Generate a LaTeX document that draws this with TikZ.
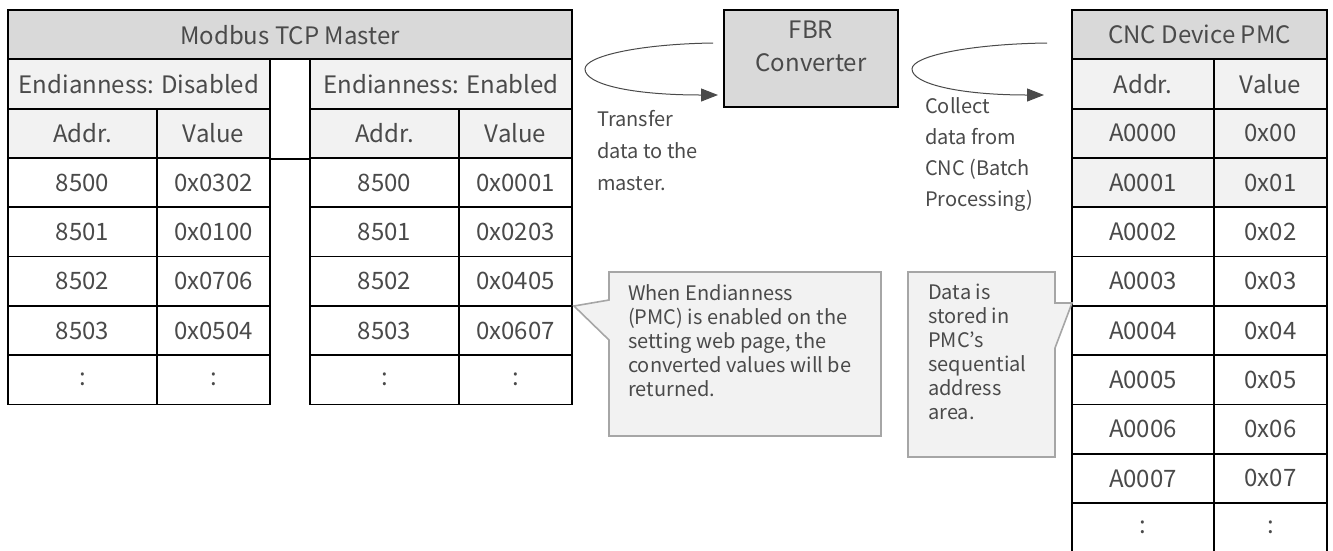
\documentclass[tikz,border=0pt]{standalone}
\usepackage{fontspec}
\setmainfont{Noto Sans CJK JP}
\usepackage{xcolor}
\usetikzlibrary{positioning,arrows.meta}
\definecolor{headgray}{HTML}{D9D9D9}
\definecolor{rowgray}{HTML}{F2F2F2}
\definecolor{txtgray}{HTML}{4A4A4A}
\definecolor{notegray}{HTML}{A6A6A6}

\begin{document}
\begin{tikzpicture}[x=1pt, y=-1pt,
cell/.style={draw, line width=1.8pt, inner sep=0pt, minimum height=49.3pt, text=txtgray, font=\fontsize{24}{28}\selectfont},
headcell/.style={fill=headgray},
lightcell/.style={fill=rowgray},
addrcol/.style={minimum width=149pt},
valcol/.style={minimum width=113pt},
cncaddr/.style={minimum width=142pt},
notetext/.style={inner sep=0pt, text=txtgray, align=left, font=\fontsize{20}{24}\selectfont},
callout/.style={fill=rowgray, draw=notegray, line width=1.6pt},
loop/.style={draw=txtgray, line width=1pt, -{Triangle[length=17pt,width=13pt]}}]

\useasboundingbox (0,0) rectangle (1333,550);

% Modbus master table
\node[cell, headcell, minimum width=564pt] (mhead) at (290,34.65) {Modbus TCP Master};
\node[cell, lightcell, minimum width=262pt] (endis) at (139,83.95) {Endianness: Disabled};
\node[cell, lightcell, minimum width=262pt] (enen)  at (441,83.95) {Endianness: Enabled};
\node[cell, lightcell, addrcol] (disaddr) at (82.5,133.25)  {Addr.};
\node[cell, lightcell, valcol]  (disval)  at (213.5,133.25) {Value};
\node[cell, lightcell, addrcol] (enaddr)  at (384.5,133.25) {Addr.};
\node[cell, lightcell, valcol]  (enval)   at (515.5,133.25) {Value};
\draw[line width=1.8pt] (disval.south east) -- (enaddr.south west);

\node[cell, addrcol] (disa0) at (82.5,182.55)  {8500};
\node[cell, valcol]  (disv0) at (213.5,182.55) {0x0302};
\node[cell, addrcol] (disa1) at (82.5,231.85)  {8501};
\node[cell, valcol]  (disv1) at (213.5,231.85) {0x0100};
\node[cell, addrcol] (disa2) at (82.5,281.15)  {8502};
\node[cell, valcol]  (disv2) at (213.5,281.15) {0x0706};
\node[cell, addrcol] (disa3) at (82.5,330.45)  {8503};
\node[cell, valcol]  (disv3) at (213.5,330.45) {0x0504};
\node[cell, addrcol] (disa4) at (82.5,379.75)  {:};
\node[cell, valcol]  (disv4) at (213.5,379.75) {:};

\node[cell, addrcol] (ena0) at (384.5,182.55) {8500};
\node[cell, valcol]  (env0) at (515.5,182.55) {0x0001};
\node[cell, addrcol] (ena1) at (384.5,231.85) {8501};
\node[cell, valcol]  (env1) at (515.5,231.85) {0x0203};
\node[cell, addrcol] (ena2) at (384.5,281.15) {8502};
\node[cell, valcol]  (env2) at (515.5,281.15) {0x0405};
\node[cell, addrcol] (ena3) at (384.5,330.45) {8503};
\node[cell, valcol]  (env3) at (515.5,330.45) {0x0607};
\node[cell, addrcol] (ena4) at (384.5,379.75) {:};
\node[cell, valcol]  (env4) at (515.5,379.75) {:};

% converter
\node[draw, line width=1.8pt, fill=headgray, minimum width=174pt, minimum height=97pt] (fbr) at (811,58.5) {};
\node[notetext, align=center, font=\fontsize{24}{33}\selectfont, below=12pt of fbr.north] (fbrtext) {FBR\\Converter};

% CNC table
\node[cell, headcell, minimum width=255pt] (chead) at (1199.5,34.65) {CNC Device PMC};
\node[cell, lightcell, cncaddr] (caddr) at (1143,83.95)   {Addr.};
\node[cell, lightcell, valcol]  (cval)  at (1270.5,83.95) {Value};
\node[cell, lightcell, cncaddr] (ca0) at (1143,133.25)   {A0000};
\node[cell, lightcell, valcol]  (cv0) at (1270.5,133.25) {0x00};
\node[cell, lightcell, cncaddr] (ca1) at (1143,182.55)   {A0001};
\node[cell, lightcell, valcol]  (cv1) at (1270.5,182.55) {0x01};
\node[cell, cncaddr] (ca2) at (1143,231.85)   {A0002};
\node[cell, valcol]  (cv2) at (1270.5,231.85) {0x02};
\node[cell, cncaddr] (ca3) at (1143,281.15)   {A0003};
\node[cell, valcol]  (cv3) at (1270.5,281.15) {0x03};
\node[cell, cncaddr] (ca4) at (1143,330.45)   {A0004};
\node[cell, valcol]  (cv4) at (1270.5,330.45) {0x04};
\node[cell, cncaddr] (ca5) at (1143,379.75)   {A0005};
\node[cell, valcol]  (cv5) at (1270.5,379.75) {0x05};
\node[cell, cncaddr] (ca6) at (1143,429.05)   {A0006};
\node[cell, valcol]  (cv6) at (1270.5,429.05) {0x06};
\node[cell, cncaddr] (ca7) at (1143,478.35)   {A0007};
\node[cell, valcol]  (cv7) at (1270.5,478.35) {0x07};
\node[cell, cncaddr] (ca8) at (1143,527.65)   {:};
\node[cell, valcol]  (cv8) at (1270.5,527.65) {:};

% loop arrows
\coordinate (xferstart) at (713,43);
\coordinate (xfertip)   at (718,95);
\coordinate (collstart) at (1047,43);
\coordinate (colltip)   at (1044,95);
\draw[loop] (xferstart) .. controls (640,44) and (585,56) .. (585,69) .. controls (585,84) and (630,95) .. (xfertip);
\draw[loop] (collstart) .. controls (970,44) and (912,56) .. (912,69) .. controls (912,84) and (960,95) .. (colltip);
\node[notetext, anchor=north west, font=\fontsize{20}{32}\selectfont] (xfernote) at (597,110) {Transfer\\data to the\\master.};
\node[notetext, anchor=north west, font=\fontsize{20}{31}\selectfont] (collnote) at (925,97) {Collect\\data from\\CNC (Batch\\Processing)};

% callouts
\draw[callout] (609,272) -- (881,272) -- (881,436) -- (609,436) -- (609,340) -- (574,306) -- (609,300) -- cycle;
\node[notetext, anchor=north west] (endnote) at (628,284) {When Endianness\\(PMC) is enabled on the\\setting web page, the\\converted values will be\\returned.};
\draw[callout] (908,272) -- (1055,272) -- (1055,303) -- (1072,303) -- (1055,348) -- (1055,457) -- (908,457) -- cycle;
\node[notetext, anchor=north west] (pmcnote) at (928,284) {Data is\\stored in\\PMC’s\\sequential\\address\\area.};

\end{tikzpicture}
\end{document}
